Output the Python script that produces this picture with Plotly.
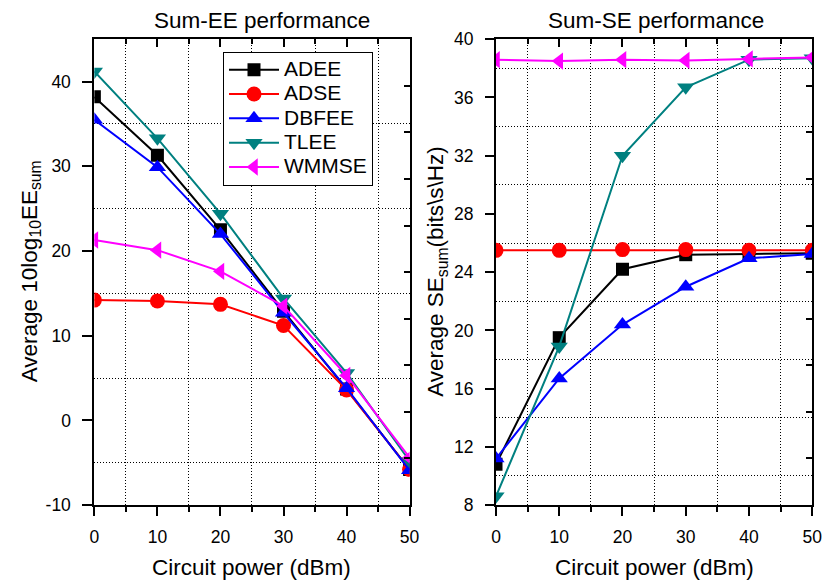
import plotly.graph_objects as go

# ---------------- data ----------------
circuit_power = [0, 10, 20, 30, 40, 50]
series_names = ["ADEE", "ADSE", "DBFEE", "TLEE", "WMMSE"]

adee_ee = [38.2, 31.3, 22.5, 12.9, 3.7, -5.8]
adse_ee = [14.2, 14.1, 13.7, 11.2, 3.6, -5.8]
dbfee_ee = [35.5, 29.9, 22.0, 12.7, 3.8, -5.9]
tlee_ee = [41.2, 33.3, 24.4, 14.4, 5.6, -4.8]
wmmse_ee = [21.3, 20.1, 17.6, 13.5, 5.3, -4.4]

adee_se = [10.8, 19.5, 24.2, 25.2, 25.25, 25.3]
adse_se = [25.5, 25.5, 25.55, 25.55, 25.5, 25.5]
dbfee_se = [11.2, 16.7, 20.4, 23.0, 24.95, 25.25]
tlee_se = [8.6, 18.9, 32.0, 36.7, 38.6, 38.7]
wmmse_se = [38.6, 38.5, 38.6, 38.55, 38.65, 38.75]

x_ticks = [0, 10, 20, 30, 40, 50]
ee_ticks = [-10, 0, 10, 20, 30, 40]
ee_tick_labels = ["-10", "0", "10", "20", "30", "40"]
se_ticks = [8, 12, 16, 20, 24, 28, 32, 36, 40]

# ---------------- styles ----------------
colors = ["#000000", "#FF0000", "#0000FF", "#008080", "#FF00FF"]
symbols = ["square", "circle", "triangle-up", "triangle-down", "triangle-left"]
sizes = [13, 15, 15, 15, 15]
FONT = "Liberation Sans, Arial, sans-serif"
W, H = 834, 588
GRID_DASH = "1px,2px"

fig = go.Figure()

ee_data = [adee_ee, adse_ee, dbfee_ee, tlee_ee, wmmse_ee]
se_data = [adee_se, adse_se, dbfee_se, tlee_se, wmmse_se]

for i, name in enumerate(series_names):
    fig.add_trace(go.Scatter(
        x=circuit_power, y=ee_data[i],
        name="<span style='font-size:21px'>" + name + "</span>",
        mode="lines+markers",
        line=dict(color=colors[i], width=2),
        marker=dict(symbol=symbols[i], size=sizes[i], color=colors[i]),
        xaxis="x", yaxis="y", showlegend=True))
for i, name in enumerate(series_names):
    fig.add_trace(go.Scatter(
        x=circuit_power, y=se_data[i], name=name, mode="lines+markers",
        line=dict(color=colors[i], width=2),
        marker=dict(symbol=symbols[i], size=sizes[i], color=colors[i]),
        xaxis="x2", yaxis="y2", showlegend=False))

# invisible traces so that the decorative overlay axes are drawn
for xa, ya in [("x3", "y3"), ("x4", "y4")]:
    fig.add_trace(go.Scatter(x=[None], y=[None], xaxis=xa, yaxis=ya,
                             showlegend=False, hoverinfo="skip"))

# pixel geometry
def px_x(p):
    return p / W

def px_y(p):
    return 1 - p / H

yd = [px_y(512.5), px_y(30.3)]
xd1 = [px_x(91), px_x(412)]
xd2 = [px_x(500), px_x(822)]

tickfont = dict(family=FONT, size=17.5, color="black")

def xaxis_main(domain, anchor):
    return dict(domain=domain, anchor=anchor, range=[0, 50],
                tickvals=x_ticks, ticks="outside", ticklen=9, tickwidth=2,
                tickcolor="black", showline=True, linewidth=2, linecolor="black",
                mirror=True, showgrid=False, zeroline=False, tickfont=tickfont,
                ticklabelstandoff=6,
                minor=dict(tickvals=[5, 15, 25, 35, 45], ticks="outside", ticklen=5,
                           tickwidth=2, tickcolor="black", showgrid=True,
                           gridcolor="black", griddash=GRID_DASH, gridwidth=1))

def xaxis_top(domain, anchor, overlay):
    return dict(domain=domain, anchor=anchor, overlaying=overlay, side="top",
                range=[0, 50], tickvals=x_ticks, ticks="inside", ticklen=8,
                tickwidth=2, tickcolor="black", showticklabels=False,
                showline=False, showgrid=False, zeroline=False,
                minor=dict(tickvals=[5, 15, 25, 35, 45], ticks="inside", ticklen=5,
                           tickwidth=2, tickcolor="black", showgrid=False))

def yaxis_right(domain, anchor, overlay):
    return dict(domain=domain, anchor=anchor, overlaying=overlay, side="right",
                range=[0, 10], dtick=1, tick0=0, ticks="inside", ticklen=6,
                tickwidth=2, tickcolor="black", showticklabels=False,
                showline=False, showgrid=False, zeroline=False)

fig.update_layout(
    width=W, height=H,
    margin=dict(l=0, r=0, t=0, b=0),
    paper_bgcolor="white", plot_bgcolor="white",
    font=dict(family=FONT, color="black"),
    showlegend=True,
    xaxis=xaxis_main(xd1, "y"),
    yaxis=dict(domain=yd, anchor="x", range=[-10, 45], tickvals=ee_ticks,
               ticktext=ee_tick_labels,
               ticks="outside", ticklen=10, tickwidth=2, tickcolor="black",
               showline=True, linewidth=2, linecolor="black", mirror=True,
               showgrid=False, zeroline=False, tickfont=tickfont,
               ticklabelstandoff=8,
               minor=dict(tickvals=[-5, 5, 15, 25, 35], showgrid=True,
                          gridcolor="black", griddash=GRID_DASH, gridwidth=1)),
    xaxis2=xaxis_main(xd2, "y2"),
    yaxis2=dict(domain=yd, anchor="x2", range=[8, 40], tickvals=se_ticks,
                ticks="outside", ticklen=9, tickwidth=2, tickcolor="black",
                showline=True, linewidth=2, linecolor="black", mirror=True,
                showgrid=False, zeroline=False, tickfont=tickfont,
                ticklabelstandoff=8,
                minor=dict(tickvals=[10, 14, 18, 22, 26, 30, 34, 38], showgrid=True,
                           gridcolor="black", griddash=GRID_DASH, gridwidth=1)),
    xaxis3=xaxis_top(xd1, "y3", "x"),
    yaxis3=yaxis_right(yd, "x3", "y"),
    xaxis4=xaxis_top(xd2, "y4", "x2"),
    yaxis4=yaxis_right(yd, "x4", "y2"),
    legend=dict(x=px_x(222), y=px_y(43), xanchor="left", yanchor="top",
                bgcolor="white", bordercolor="black", borderwidth=1,
                font=dict(family=FONT, size=16.4, color="black"),
                tracegroupgap=0, itemwidth=50),
)

ann_font = dict(family=FONT, size=22.5, color="black")
annotations = [
    dict(text="Sum-EE performance", x=px_x(262), y=px_y(11)),
    dict(text="Sum-SE performance", x=px_x(663), y=px_y(11)),
    dict(text="Circuit power (dBm)", x=px_x(251), y=px_y(577)),
    dict(text="Circuit power (dBm)", x=px_x(661), y=px_y(577)),
    dict(text="Average 10log<sub>10</sub>EE<sub>sum</sub>", x=px_x(26), y=px_y(271),
         textangle=-90),
    dict(text="Average SE<sub>sum</sub>(bits\\s\\Hz)", x=px_x(440), y=px_y(271),
         textangle=-90),
]
for a in annotations:
    fig.add_annotation(xref="paper", yref="paper", showarrow=False,
                       xanchor="center", yanchor="middle", font=ann_font, **a)

fig.write_html("out.html")
